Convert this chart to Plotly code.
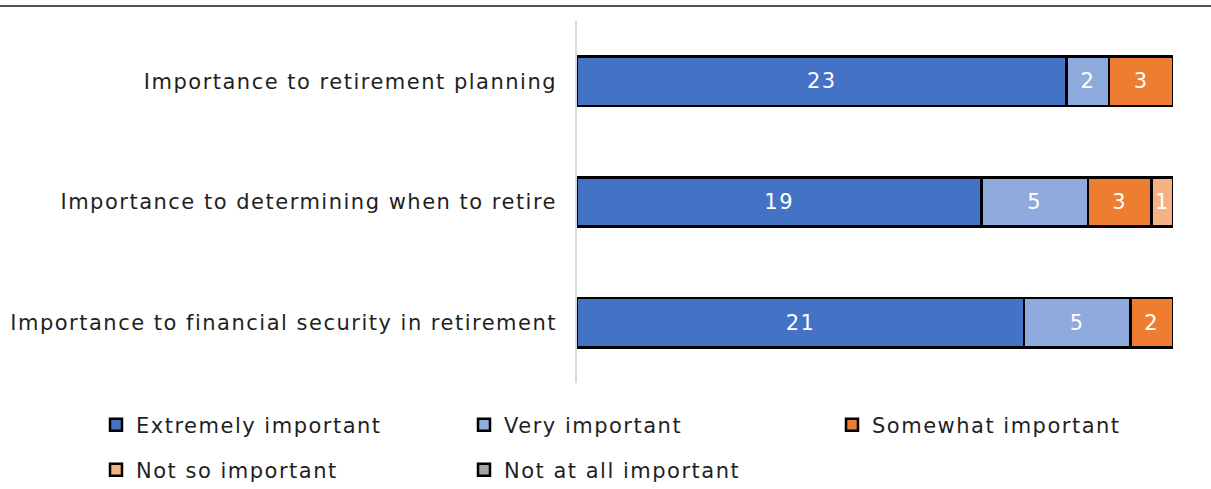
import plotly.graph_objects as go

categories = ["Importance to retirement planning",
              "Importance to determining when to retire",
              "Importance to financial security in retirement"]
series_names = ["Extremely important", "Very important", "Somewhat important",
                "Not so important", "Not at all important"]
extremely = [23, 19, 21]
very = [2, 5, 5]
somewhat = [3, 3, 2]
not_so = [0, 1, 0]
not_at_all = [0, 0, 0]
colors = ["#4472C4", "#8FAADC", "#ED7D31", "#F4B183", "#A5A5A5"]
values = [extremely, very, somewhat, not_so, not_at_all]

FONT = "DejaVu Sans"
FS = 21
TXT = "#1f1f1f"
W, H = 1211, 489
ML, MR, MT, MB = 577, 38, 21, 106
pw = W - ML - MR
ph = H - MT - MB

def px_x(px):
    return (px - ML) / pw

def px_y(py):
    return (H - MB - py) / ph

# legend grid positions (pixels): columns and rows
leg_cols = [96, 464, 832]
leg_rows = [425, 470]
leg_pos = [(leg_cols[0], leg_rows[0]), (leg_cols[1], leg_rows[0]), (leg_cols[2], leg_rows[0]),
           (leg_cols[0], leg_rows[1]), (leg_cols[1], leg_rows[1])]

fig = go.Figure()
legends = {}
for i, (name, vals, col) in enumerate(zip(series_names, values, colors)):
    key = "legend" if i == 0 else f"legend{i+1}"
    fig.add_trace(go.Bar(
        name=name, y=categories, x=vals, orientation="h",
        marker=dict(color=col, line=dict(color="#000000", width=2.5)),
        text=[str(v) if v else "" for v in vals],
        textposition="inside", insidetextanchor="middle",
        textfont=dict(color="white", size=FS, family=FONT),
        width=0.41, legend=key,
    ))
    lx, ly = leg_pos[i]
    legends[key] = dict(orientation="h", x=px_x(lx), y=px_y(ly), yanchor="middle",
                        xanchor="left", font=dict(size=FS, color=TXT, family=FONT),
                        bgcolor="rgba(0,0,0,0)")

fig.update_layout(
    width=W, height=H, barmode="stack",
    margin=dict(l=ML, r=MR, t=MT, b=MB, autoexpand=False),
    paper_bgcolor="white", plot_bgcolor="white",
    font=dict(family=FONT, size=FS, color=TXT),
    uniformtext=dict(minsize=FS, mode="show"),
    xaxis=dict(range=[0, 28], visible=False, fixedrange=True),
    yaxis=dict(categoryorder="array", categoryarray=categories[::-1],
               showline=True, linecolor="#D9D9D9", linewidth=1.5,
               ticks="", ticklen=0, ticklabelstandoff=14, fixedrange=True,
               tickfont=dict(size=FS, color=TXT, family=FONT),
               showgrid=False),
    shapes=[dict(type="line", xref="paper", yref="paper",
                 x0=px_x(0), x1=px_x(W), y0=px_y(6), y1=px_y(6),
                 line=dict(color="#1a1a1a", width=1.5))],
    showlegend=True,
    **legends,
)
post = (
    "document.body.style.margin='0';"
    "var s=document.createElement('style');"
    "s.textContent='svg text{letter-spacing:1.5px;} "
    ".infolayer, .infolayer *{clip-path:none !important;}';"
    "document.head.appendChild(s);"
)
fig.write_html("out.html", post_script=post, config={"displayModeBar": False})
